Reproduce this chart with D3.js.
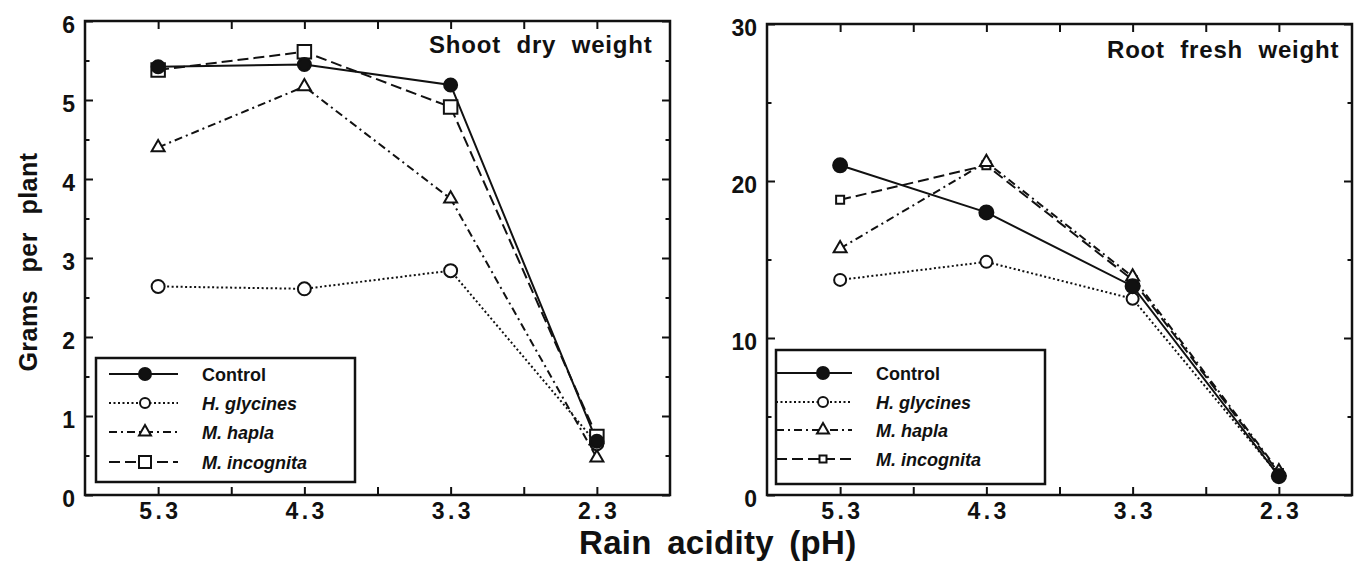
<!DOCTYPE html>
<html lang="en">
<head>
    <meta charset="UTF-8">
    <title>Rain acidity - shoot and root weight</title>
    <script src="https://d3js.org/d3.v7.min.js"></script>
    <style>
        body { margin: 0; background: #fff; }
        svg text { font-family: "Liberation Sans", Arial, Helvetica, sans-serif; font-weight: bold; fill: #111; }
    </style>
</head>
<body>
    <svg id="chart" width="1358" height="561"></svg>

    <script>
        // x categories (rain pH) and tick labels
        const phLevels = [5.3, 4.3, 3.3, 2.3];
        const xTickLabels = ["5.3", "4.3", "3.3", "2.3"];
        const seriesNames = ["Control", "H. glycines", "M. hapla", "M. incognita"];

        // Shoot dry weight (g per plant)
        const shootControl    = [5.42, 5.45, 5.19, 0.68];
        const shootHGlycines  = [2.64, 2.61, 2.84, 0.65];
        const shootMHapla     = [4.40, 5.17, 3.75, 0.47];
        const shootMIncognita = [5.38, 5.61, 4.91, 0.74];

        // Root fresh weight (g per plant)
        const rootControl    = [21.0, 18.0, 13.3, 1.2];
        const rootHGlycines  = [13.7, 14.85, 12.5, 1.25];
        const rootMHapla     = [15.7, 21.2, 13.9, 1.5];
        const rootMIncognita = [18.8, 21.0, 13.7, 1.4];

        const shootYTicks = [0, 1, 2, 3, 4, 5, 6];
        const rootYTicks = [0, 10, 20, 30];

        // line / marker look for each series
        const seriesStyle = [
            { dash: null,        marker: "circle",   fill: "#111" },
            { dash: "2,2.5",     marker: "circle",   fill: "#fff" },
            { dash: "8,4,2,4",   marker: "triangle", fill: "#fff" },
            { dash: "11,5",      marker: "square",   fill: "#fff" }
        ];

        const panels = [
            {
                title: "Shoot dry weight", titleX: 429, titleY: 53,
                left: 85, right: 670, top: 21, bottom: 495,
                yMax: 6, yTicks: shootYTicks, yMinorStep: 0.5,
                series: [shootControl, shootHGlycines, shootMHapla, shootMIncognita],
                sizes: { circle: 6.5, open: 6.5, triangle: 13, square: 13.5 },
                legend: { x: 96, y: 358, w: 259, h: 124, x0: 109, x1: 178, mx: 145, tx: 202,
                          rows: [374, 403, 432, 462], sizes: { circle: 6, open: 5, triangle: 12, square: 12 } }
            },
            {
                title: "Root fresh weight", titleX: 1107, titleY: 58,
                left: 767, right: 1352, top: 24, bottom: 495,
                yMax: 30, yTicks: rootYTicks, yMinorStep: 5,
                series: [rootControl, rootHGlycines, rootMHapla, rootMIncognita],
                sizes: { circle: 7, open: 6, triangle: 13, square: 8 },
                legend: { x: 776, y: 350, w: 269, h: 134, x0: 776, x1: 852, mx: 823, tx: 876,
                          rows: [373, 402, 430, 459], sizes: { circle: 6, open: 5, triangle: 12, square: 7 } }
            }
        ];

        const svg = d3.select("#chart");

        function markerPath(kind, size) {
            if (kind === "triangle") {
                // equilateral triangle of side "size"
                return d3.symbol().type(d3.symbolTriangle).size(Math.sqrt(3) / 4 * size * size)();
            }
            if (kind === "square") {
                return d3.symbol().type(d3.symbolSquare).size(size * size)();
            }
            return d3.symbol().type(d3.symbolCircle).size(Math.PI * size * size)();
        }

        function markerSize(style, sizes) {
            if (style.marker === "circle") return style.fill === "#fff" ? sizes.open : sizes.circle;
            return sizes[style.marker];
        }

        function drawPanel(p) {
            const g = svg.append("g");

            const x = d3.scaleLinear().domain([5.8, 1.8]).range([p.left, p.right]);
            const y = d3.scaleLinear().domain([0, p.yMax]).range([p.bottom, p.top]);

            const xTickVals = d3.range(0, 7).map(i => +(5.3 - i * 0.5).toFixed(1));
            const yMinorVals = d3.range(p.yMinorStep, p.yMax, p.yMinorStep)
                .filter(v => !p.yTicks.includes(+v.toFixed(2)));

            // bottom axis with labels
            const bottomAxis = g.append("g")
                .attr("transform", `translate(0,${p.bottom})`)
                .call(d3.axisBottom(x).tickValues(xTickVals).tickSize(-8).tickPadding(8)
                    .tickFormat(d => {
                        const i = phLevels.indexOf(d);
                        return i >= 0 ? xTickLabels[i] : "";
                    }));
            bottomAxis.selectAll("text")
                .attr("font-size", 23)
                .filter(function() { return this.textContent !== ""; })
                .attr("textLength", 39)
                .attr("lengthAdjust", "spacing");

            // top axis, ticks only
            g.append("g")
                .attr("transform", `translate(0,${p.top})`)
                .call(d3.axisTop(x).tickValues(xTickVals).tickSize(-8).tickFormat(""));

            // left axis: major with labels, minor without
            const leftAxis = g.append("g")
                .attr("transform", `translate(${p.left},0)`)
                .call(d3.axisLeft(y).tickValues(p.yTicks).tickSize(-8).tickPadding(10)
                    .tickFormat(d3.format("d")));
            leftAxis.selectAll("text").attr("font-size", 23).attr("dy", "0.52em");
            g.append("g")
                .attr("transform", `translate(${p.left},0)`)
                .call(d3.axisLeft(y).tickValues(yMinorVals).tickSize(-4.5).tickFormat(""));

            // right axis ticks
            g.append("g")
                .attr("transform", `translate(${p.right},0)`)
                .call(d3.axisRight(y).tickValues(p.yTicks).tickSize(-8).tickFormat(""));
            g.append("g")
                .attr("transform", `translate(${p.right},0)`)
                .call(d3.axisRight(y).tickValues(yMinorVals).tickSize(-4.5).tickFormat(""));

            g.selectAll(".domain").remove();
            g.selectAll(".tick line").attr("stroke", "#111").attr("stroke-width", 2);

            // frame
            g.append("rect")
                .attr("x", p.left).attr("y", p.top)
                .attr("width", p.right - p.left).attr("height", p.bottom - p.top)
                .attr("fill", "none").attr("stroke", "#111").attr("stroke-width", 2.5);

            // panel title
            g.append("text")
                .attr("x", p.titleX).attr("y", p.titleY)
                .attr("font-size", 24)
                .attr("letter-spacing", 0.8)
                .attr("word-spacing", 8)
                .text(p.title);

            const line = d3.line()
                .x((d, i) => x(phLevels[i]))
                .y(d => y(d));

            // series lines
            p.series.forEach((vals, s) => {
                g.append("path")
                    .datum(vals)
                    .attr("d", line)
                    .attr("fill", "none")
                    .attr("stroke", "#111")
                    .attr("stroke-width", 2)
                    .attr("stroke-dasharray", seriesStyle[s].dash);
            });

            // markers (open ones first, control on top)
            [3, 2, 1, 0].forEach(s => {
                const st = seriesStyle[s];
                g.selectAll(null)
                    .data(p.series[s])
                    .join("path")
                    .attr("transform", (d, i) => `translate(${x(phLevels[i])},${y(d)})`)
                    .attr("d", markerPath(st.marker, markerSize(st, p.sizes)))
                    .attr("fill", st.fill)
                    .attr("stroke", "#111")
                    .attr("stroke-width", 2);
            });

            // legend
            const L = p.legend;
            const lg = g.append("g");
            lg.append("rect")
                .attr("x", L.x).attr("y", L.y).attr("width", L.w).attr("height", L.h)
                .attr("fill", "#fff").attr("stroke", "#111").attr("stroke-width", 2.5);

            seriesNames.forEach((name, s) => {
                const st = seriesStyle[s];
                const ry = L.rows[s];
                lg.append("line")
                    .attr("x1", L.x0).attr("x2", L.x1).attr("y1", ry).attr("y2", ry)
                    .attr("stroke", "#111").attr("stroke-width", 2)
                    .attr("stroke-dasharray", st.dash);
                lg.append("path")
                    .attr("transform", `translate(${L.mx},${ry})`)
                    .attr("d", markerPath(st.marker, markerSize(st, L.sizes)))
                    .attr("fill", st.fill)
                    .attr("stroke", "#111").attr("stroke-width", 2);
                lg.append("text")
                    .attr("x", L.tx).attr("y", ry + 6.5)
                    .attr("font-size", 18)
                    .attr("font-style", s === 0 ? "normal" : "italic")
                    .text(name);
            });
        }

        panels.forEach(drawPanel);

        // shared axis titles
        svg.append("text")
            .attr("x", 579).attr("y", 554)
            .attr("font-size", 33)
            .attr("letter-spacing", 0.3)
            .attr("word-spacing", 6)
            .text("Rain acidity (pH)");

        svg.append("text")
            .attr("transform", "translate(37,262) rotate(-90)")
            .attr("text-anchor", "middle")
            .attr("font-size", 25)
            .attr("letter-spacing", 0.5)
            .attr("word-spacing", 10)
            .text("Grams per plant");
    </script>
</body>
</html>
